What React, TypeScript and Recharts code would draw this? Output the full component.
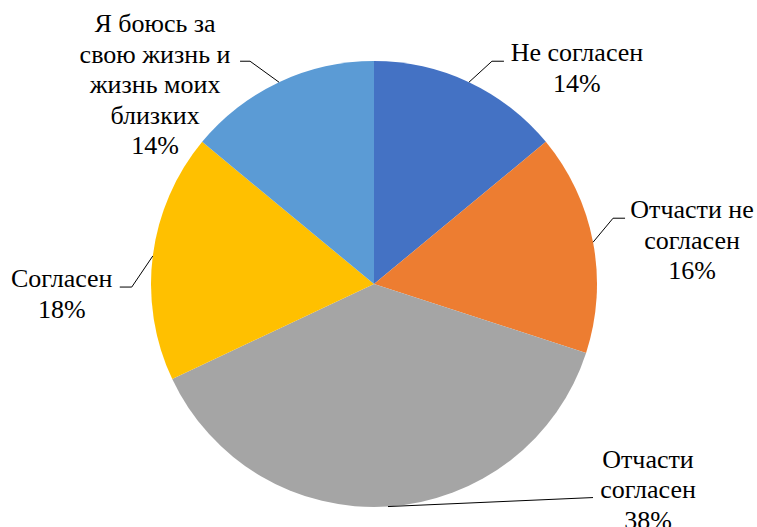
import { PieChart, Pie, Cell, Text } from "recharts";

const categories = [
  "Не согласен",
  "Отчасти не\nсогласен",
  "Отчасти\nсогласен",
  "Согласен",
  "Я боюсь за\nсвою жизнь и\nжизнь моих\nблизких",
];
const values = [14, 16, 38, 18, 14];
const colors = ["#4472C4", "#ED7D31", "#A5A5A5", "#FFC000", "#5B9BD5"];

// leader line + text placement, relative to the slice edge point
const labelLayout = [
  { ex: 23, ey: -21, h: 12, tx: 73, ty: 0 },
  { ex: 20, ey: -24, h: 12, tx: 67, ty: 0 },
  { ex: 205, ey: -9, h: 0, tx: 55, ty: -30 },
  { ex: -21, ey: 31, h: -12, tx: -58, ty: 0 },
  { ex: -29, ey: -21, h: -10, tx: -85, ty: -29 },
];

const data = categories.map((name, i) => ({ name, value: values[i] }));

const RADIAN = Math.PI / 180;
const LINE_H = 30.5;
const FONT = "Liberation Serif";

const renderLabel = (props: any) => {
  const { cx, cy, midAngle, outerRadius, percent, index } = props;
  const x0 = cx + outerRadius * Math.cos(-midAngle * RADIAN);
  const y0 = cy + outerRadius * Math.sin(-midAngle * RADIAN);
  const l = labelLayout[index];
  const x1 = x0 + l.ex;
  const y1 = y0 + l.ey;
  const x2 = x1 + l.h;
  const tx = x2 + l.tx;
  const ty = y1 + l.ty;
  const lines = [...categories[index].split("\n"), `${Math.round(percent * 100)}%`];
  return (
    <g key={`lbl-${index}`}>
      <polyline
        points={`${x0},${y0} ${x1},${y1} ${x2},${y1}`}
        fill="none"
        stroke="#000"
        strokeWidth={1}
      />
      {lines.map((t, i) => (
        <Text
          key={i}
          x={tx}
          y={ty + i * LINE_H}
          textAnchor="middle"
          verticalAnchor="end"
          fill="#000"
          stroke="none"
          fontSize={26}
          fontFamily={FONT}
          style={{ fontFamily: FONT }}
        >
          {t}
        </Text>
      ))}
    </g>
  );
};

export default function App() {
  return (
    <div style={{ position: "absolute", left: 0, top: 0, background: "#fff" }}>
      <PieChart width={757} height={527} margin={{ top: 0, right: 0, bottom: 0, left: 0 }}>
        <Pie
          data={data}
          dataKey="value"
          nameKey="name"
          cx={374}
          cy={284}
          outerRadius={223}
          startAngle={90}
          endAngle={-270}
          stroke="none"
          label={renderLabel}
          labelLine={false}
          isAnimationActive={false}
        >
          {data.map((d, i) => (
            <Cell key={d.name} fill={colors[i]} />
          ))}
        </Pie>
      </PieChart>
    </div>
  );
}
